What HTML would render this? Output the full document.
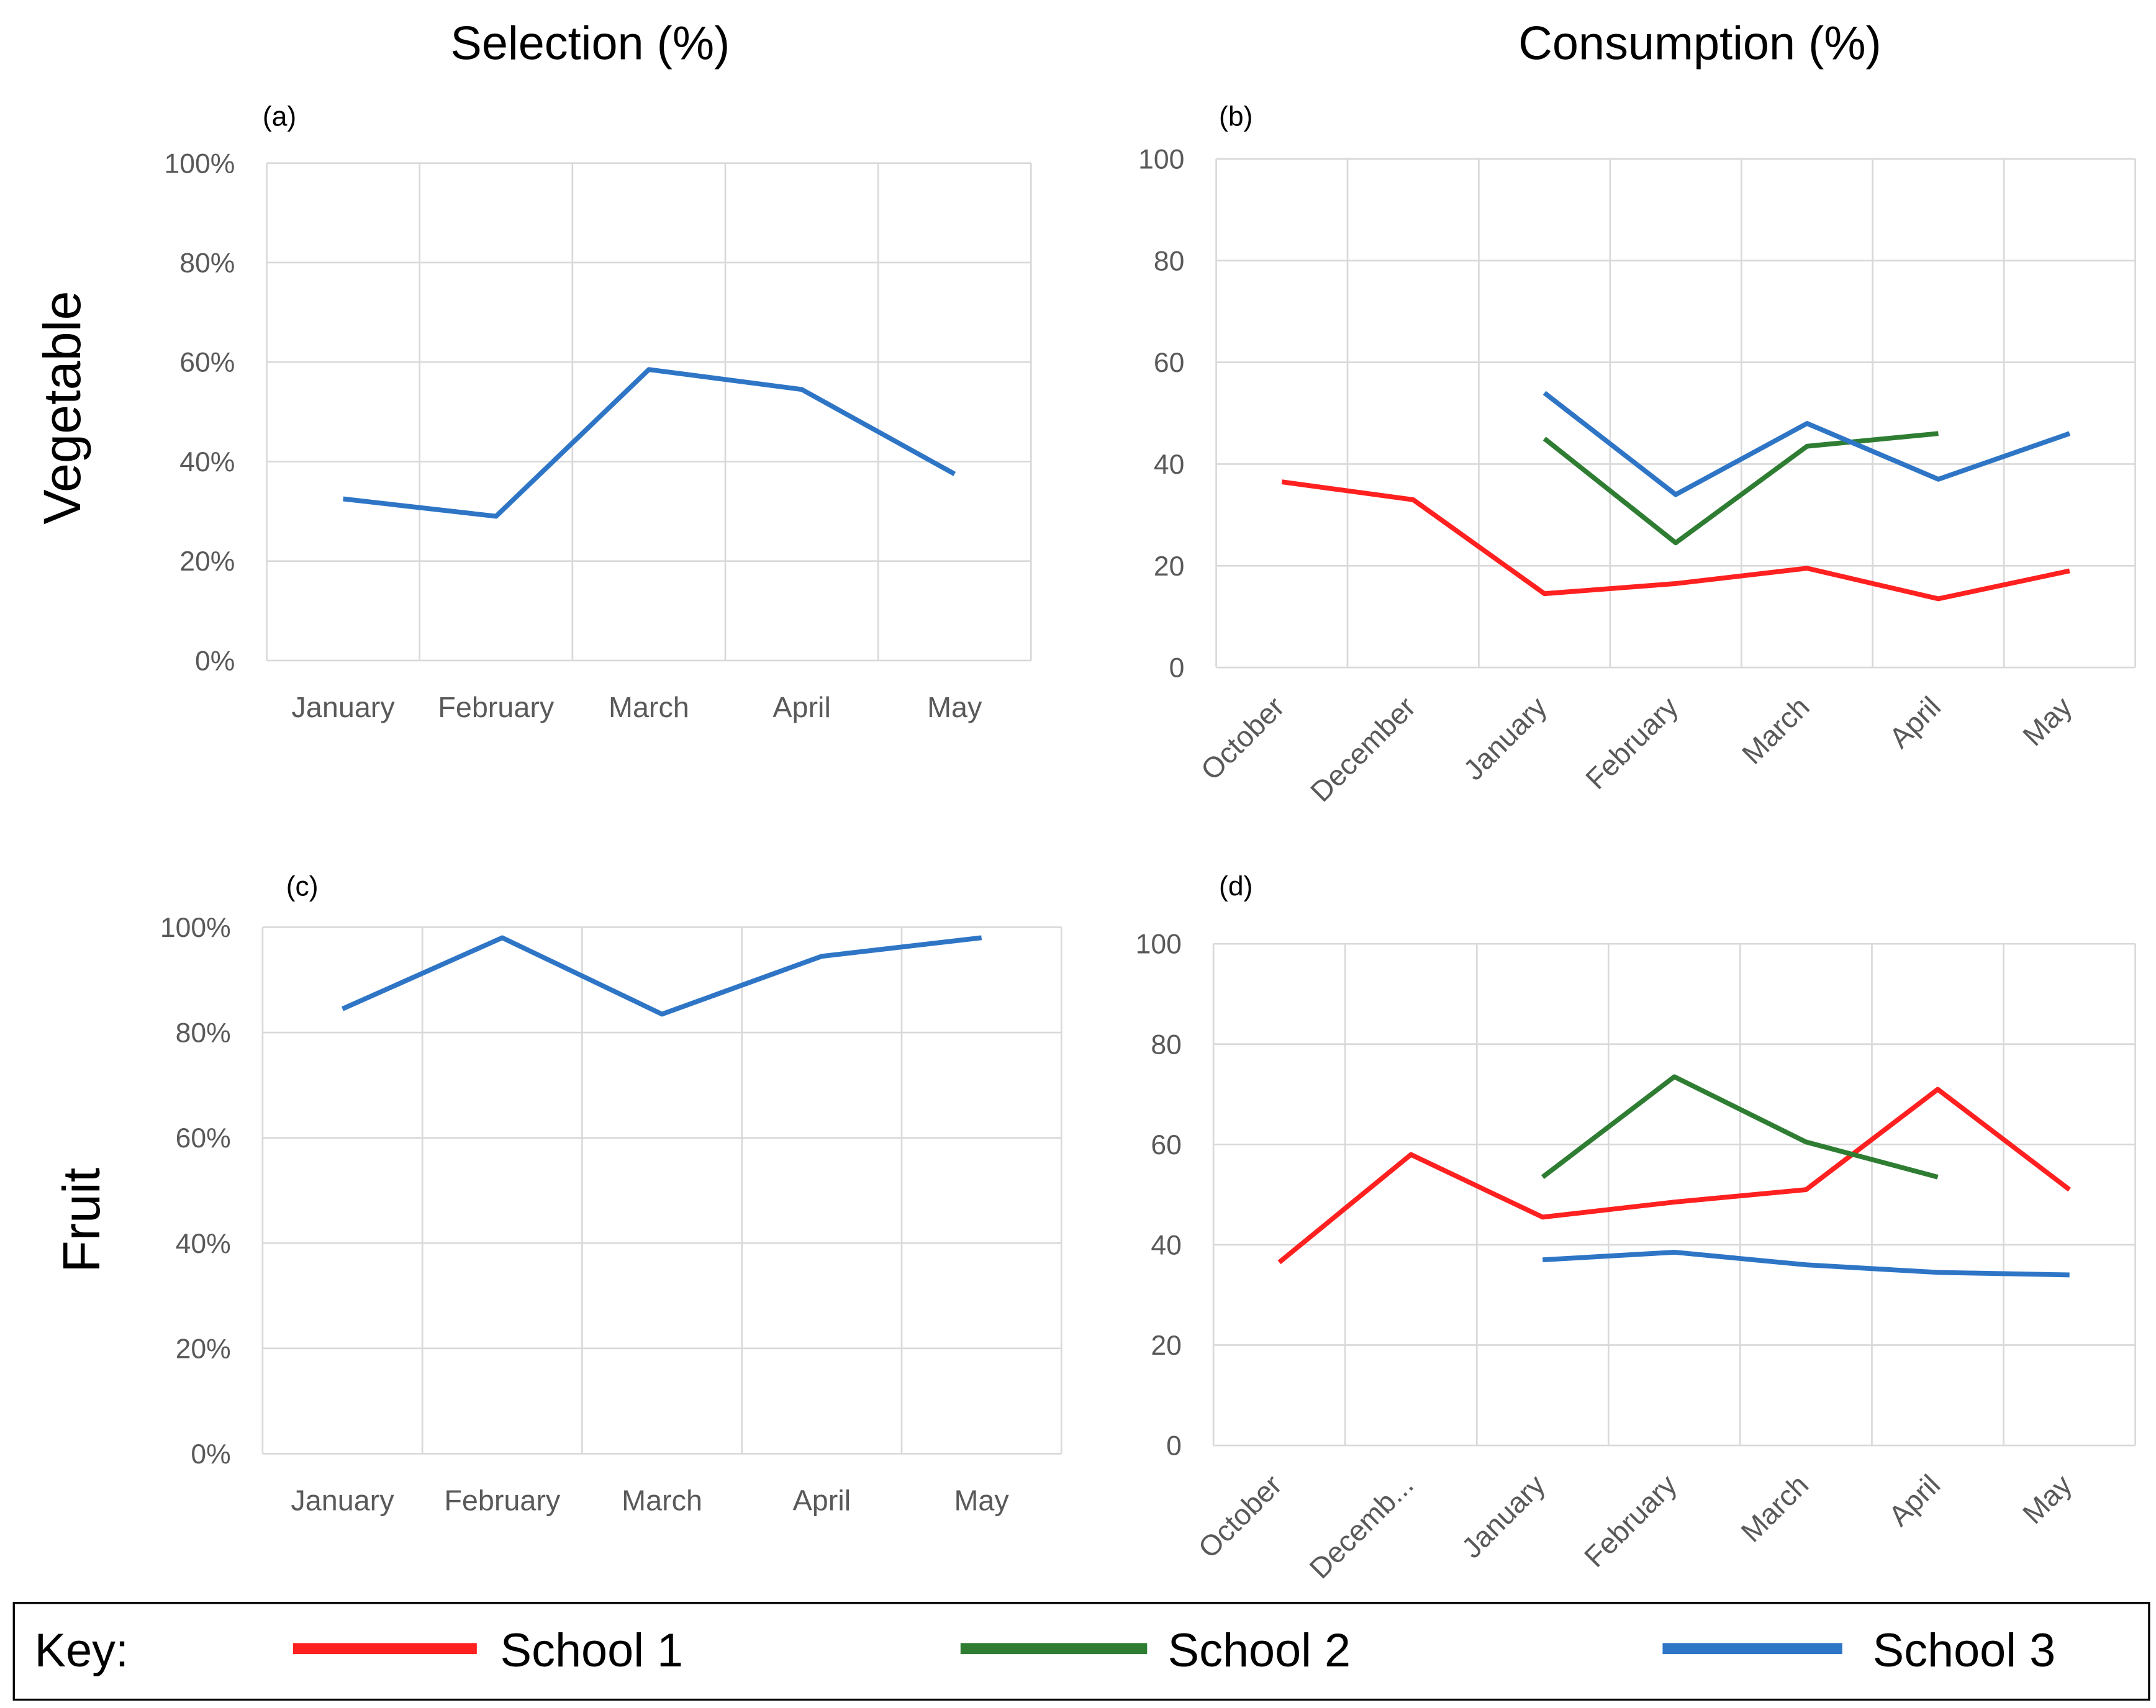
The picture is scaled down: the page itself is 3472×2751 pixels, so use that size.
<!DOCTYPE html>
<html><head><meta charset="utf-8"><style>
html,body{margin:0;padding:0;background:#fff}
svg{display:block}
text{font-family:"Liberation Sans",sans-serif;fill:#595959}
</style></head><body>
<svg id="chart" width="3472" height="2751" viewBox="0 0 1560 1236" xmlns="http://www.w3.org/2000/svg">
<rect width="1560" height="1236" fill="#fff"/>
<text x="427" y="43" font-size="34" text-anchor="middle" style="fill:#000">Selection (%)</text>
<text x="1230" y="43" font-size="34" text-anchor="middle" style="fill:#000">Consumption (%)</text>
<text transform="translate(58,295) rotate(-90)" font-size="38" text-anchor="middle" style="fill:#000">Vegetable</text>
<text transform="translate(72,883) rotate(-90)" font-size="38" text-anchor="middle" style="fill:#000">Fruit</text>
<g id="panels"></g>
<g>
<rect x="10" y="1160" width="1545" height="70" fill="none" stroke="#000" stroke-width="1.5"/>
<text x="25" y="1206" font-size="34" style="fill:#000">Key:</text>
<line x1="212" y1="1193" x2="345" y2="1193" stroke="#ff2020" stroke-width="8"/>
<text x="362" y="1206" font-size="34" style="fill:#000">School 1</text>
<line x1="695" y1="1193" x2="830" y2="1193" stroke="#2e7d32" stroke-width="8"/>
<text x="845" y="1206" font-size="34" style="fill:#000">School 2</text>
<line x1="1203" y1="1193" x2="1333" y2="1193" stroke="#2e75c6" stroke-width="8"/>
<text x="1355" y="1206" font-size="34" style="fill:#000">School 3</text>
</g>
</svg>
<script>
const selMonths = ["January","February","March","April","May"];
const consMonthsB = ["October","December","January","February","March","April","May"];
const consMonthsD = ["October","Decemb...","January","February","March","April","May"];
const pctTicks = ["0%","20%","40%","60%","80%","100%"];
const numTicks = ["0","20","40","60","80","100"];
const vegSelection = [32.5, 29, 58.5, 54.5, 37.5];
const fruitSelection = [84.5, 98, 83.5, 94.5, 98];
const vegSchool1 = [36.5, 33, 14.5, 16.5, 19.5, 13.5, 19];
const vegSchool2 = [null, null, 45, 24.5, 43.5, 46, null];
const vegSchool3 = [null, null, 54, 34, 48, 37, 46];
const fruitSchool1 = [36.5, 58, 45.5, 48.5, 51, 71, 51];
const fruitSchool2 = [null, null, 53.5, 73.5, 60.5, 53.5, null];
const fruitSchool3 = [null, null, 37, 38.5, 36, 34.5, 34];

const NS = "http://www.w3.org/2000/svg";
const root = document.getElementById("panels");
function mk(tag, attrs, parent){const e=document.createElementNS(NS,tag);for(const k in attrs)e.setAttribute(k,attrs[k]);parent.appendChild(e);return e;}

function panel(id, label, labelPos, box, cats, ticks, series, rotate){
  const g = mk("g",{},root);
  
  
  const {x0,x1,y0,y1}=box;
  const n=cats.length, w=(x1-x0)/n;
  const xs=i=>x0+w*(i+0.5);
  const ys=v=>y1-(v/100)*(y1-y0);
  ticks.forEach((t,i)=>{
    const v=i*20, y=ys(v);
    const gl=mk("line",{x1:x0,x2:x1,y1:y,y2:y,stroke:"#d9d9d9","stroke-width":1.2},g);
    
    
    const tl=mk("text",{x:x0-23,y:y+7,"font-size":20,"text-anchor":"end"},g);
    tl.textContent=t;
    
    
  });
  for(let i=0;i<=n;i++){
    const x=x0+w*i;
    const vl=mk("line",{x1:x,x2:x,y1:y0,y2:y1,stroke:"#d9d9d9","stroke-width":1.2},g);
    
    
  }
  cats.forEach((c,i)=>{
    let t;
    if(rotate){
      t=mk("text",{transform:`translate(${xs(i)+3},${y1+30}) rotate(-45)`,"font-size":21,"text-anchor":"end"},g);
    } else {
      t=mk("text",{x:xs(i),y:y1+41,"font-size":21,"text-anchor":"middle"},g);
    }
    t.textContent=c;
    
    
  });
  const pl=mk("text",{x:labelPos[0],y:labelPos[1],"font-size":20,style:"fill:#000"},g);
  pl.textContent=label;
  
  
  series.forEach(s=>{
    const pts=[];
    s.vals.forEach((v,i)=>{if(v!==null)pts.push(xs(i).toFixed(1)+","+ys(v).toFixed(1));});
    const p=mk("polyline",{points:pts.join(" "),fill:"none",stroke:s.color,"stroke-width":3.5,"stroke-linejoin":"round"},g);
    
    
  });
}
const RED="#ff2020", GREEN="#2e7d32", BLUE="#2e75c6";
panel("a","(a)",[190,91],{x0:193,x1:746,y0:118,y1:478},selMonths,pctTicks,[{vals:vegSelection,color:BLUE,name:"line-vegetable-selection"}],false);
panel("b","(b)",[882,91],{x0:880,x1:1545,y0:115,y1:483},consMonthsB,numTicks,[
 {vals:vegSchool1,color:RED,name:"line-veg-school-1"},
 {vals:vegSchool2,color:GREEN,name:"line-veg-school-2"},
 {vals:vegSchool3,color:BLUE,name:"line-veg-school-3"}],true);
panel("c","(c)",[207,648],{x0:190,x1:768,y0:671,y1:1052},selMonths,pctTicks,[{vals:fruitSelection,color:BLUE,name:"line-fruit-selection"}],false);
panel("d","(d)",[882,648],{x0:878,x1:1545,y0:683,y1:1046},consMonthsD,numTicks,[
 {vals:fruitSchool1,color:RED,name:"line-fruit-school-1"},
 {vals:fruitSchool2,color:GREEN,name:"line-fruit-school-2"},
 {vals:fruitSchool3,color:BLUE,name:"line-fruit-school-3"}],true);
</script>
</body></html>
